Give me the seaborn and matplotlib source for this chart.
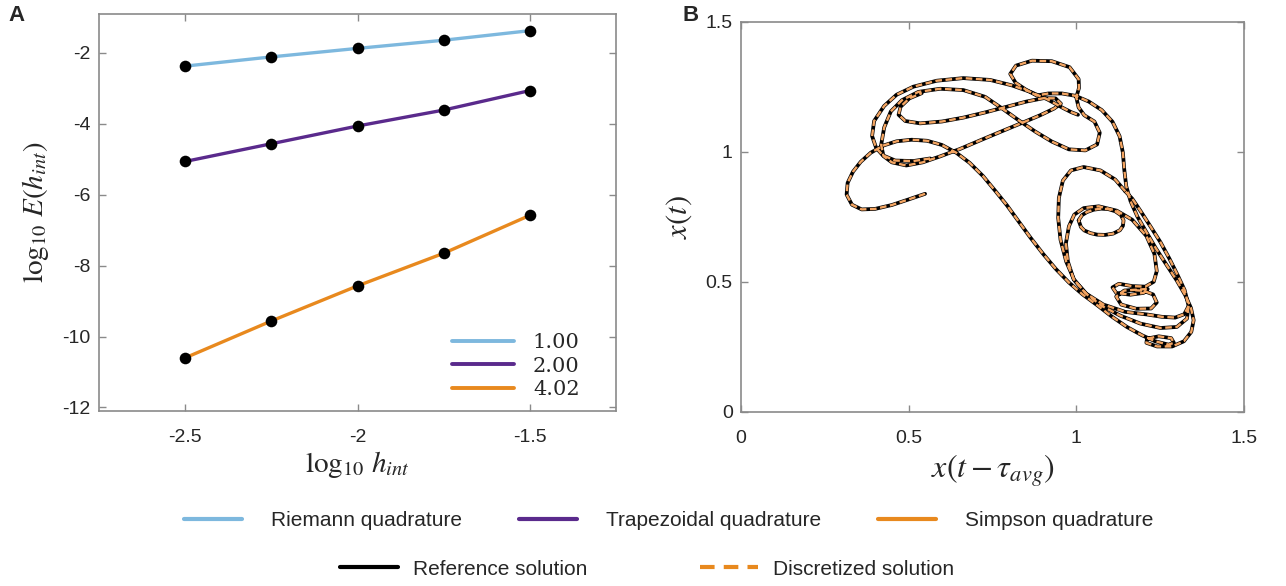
import pandas as pd
import matplotlib
matplotlib.use("Agg")
import matplotlib.pyplot as plt
from matplotlib.lines import Line2D
import seaborn as sns

# Panel A: error of the quadrature rules vs integration step (log10 / log10)
log_h = [-2.5, -2.25, -2.0, -1.75, -1.5]
riemann_err = [-2.37, -2.11, -1.87, -1.64, -1.37]
trapz_err = [-5.06, -4.56, -4.06, -3.61, -3.06]
simpson_err = [-10.60, -9.56, -8.57, -7.65, -6.58]
methods = ["Riemann quadrature", "Trapezoidal quadrature", "Simpson quadrature"]
orders = ["1.00", "2.00", "4.02"]
method_colors = ["#7DB8DE", "#5A2A8C", "#E8891E"]

# Panel B: delay embedding of the solution in pieces
main_x = [0.549, 0.499, 0.450, 0.400, 0.360, 0.331, 0.315, 0.318, 0.334, 0.357,
          0.387, 0.423, 0.464, 0.509, 0.555, 0.599, 0.642, 0.682, 0.722, 0.758,
          0.793, 0.828, 0.863, 0.901, 0.939, 0.978, 1.019, 1.062, 1.107, 1.151,
          1.196, 1.235, 1.275, 1.291, 1.283, 1.246, 1.211, 1.209, 1.241, 1.286,
          1.321, 1.343, 1.350, 1.342, 1.325, 1.299, 1.268, 1.237, 1.208, 1.182,
          1.162, 1.149, 1.143, 1.139, 1.129, 1.108, 1.076, 1.037, 0.997, 0.957,
          0.917, 0.882, 0.848, 0.819, 0.803, 0.820, 0.868, 0.927, 0.980, 1.007,
          1.008, 1.000, 1.007, 1.024, 1.054, 1.070, 1.062, 1.027, 0.978, 0.927,
          0.878, 0.828, 0.778, 0.728, 0.663, 0.594, 0.529, 0.480, 0.447, 0.427,
          0.418, 0.425, 0.450, 0.493, 0.542, 0.594, 0.654, 0.714, 0.773, 0.833,
          0.892, 0.934, 0.954, 0.938, 0.903, 0.852, 0.793, 0.728, 0.663, 0.599,
          0.534, 0.490, 0.470, 0.476, 0.502, 0.539]
main_y = [0.838, 0.816, 0.795, 0.780, 0.778, 0.796, 0.835, 0.880, 0.923, 0.961,
          0.996, 1.023, 1.040, 1.046, 1.042, 1.026, 0.996, 0.957, 0.906, 0.850,
          0.794, 0.732, 0.670, 0.607, 0.549, 0.497, 0.451, 0.410, 0.365, 0.326,
          0.294, 0.271, 0.258, 0.265, 0.283, 0.290, 0.281, 0.265, 0.251, 0.251,
          0.271, 0.307, 0.352, 0.399, 0.448, 0.506, 0.567, 0.629, 0.693, 0.751,
          0.809, 0.867, 0.932, 0.996, 1.060, 1.115, 1.160, 1.193, 1.215, 1.224,
          1.224, 1.216, 1.240, 1.265, 1.299, 1.331, 1.350, 1.348, 1.325, 1.279,
          1.245, 1.209, 1.170, 1.140, 1.116, 1.073, 1.028, 1.005, 1.009, 1.039,
          1.077, 1.121, 1.167, 1.211, 1.237, 1.242, 1.230, 1.198, 1.155, 1.093,
          1.026, 0.983, 0.959, 0.947, 0.959, 0.982, 1.011, 1.044, 1.076, 1.108,
          1.140, 1.166, 1.185, 1.205, 1.206, 1.193, 1.173, 1.151, 1.131, 1.116,
          1.109, 1.118, 1.142, 1.173, 1.205, 1.225]

outer_x = [0.564, 0.514, 0.460, 0.423, 0.403, 0.391, 0.397, 0.427, 0.464, 0.514,
           0.584, 0.663, 0.743, 0.808, 0.863, 0.913, 0.962, 0.985, 1.005]
outer_y = [0.974, 0.964, 0.966, 0.986, 1.015, 1.060, 1.118, 1.176, 1.219, 1.250,
           1.273, 1.283, 1.276, 1.255, 1.230, 1.202, 1.167, 1.152, 1.142]

big_loop_x = [1.146, 1.116, 1.072, 1.022, 0.984, 0.960, 0.948, 0.946, 0.953, 0.970,
              0.994, 1.032, 1.076, 1.132, 1.191, 1.251, 1.300, 1.330, 1.335, 1.323,
              1.302, 1.278, 1.251, 1.221, 1.191, 1.167, 1.146]
big_loop_y = [0.848, 0.893, 0.928, 0.941, 0.928, 0.889, 0.822, 0.745, 0.661, 0.577,
              0.506, 0.451, 0.407, 0.369, 0.339, 0.322, 0.326, 0.358, 0.407, 0.468,
              0.526, 0.588, 0.652, 0.713, 0.773, 0.819, 0.848]

inner_loop_x = [1.335, 1.322, 1.295, 1.255, 1.211, 1.146, 1.081, 1.027, 0.992, 0.975,
                0.969, 0.978, 0.994, 1.022, 1.067, 1.121, 1.167, 1.209, 1.233, 1.240,
                1.231, 1.206, 1.167, 1.127, 1.108, 1.119, 1.161, 1.201, 1.213, 1.186,
                1.143, 1.119, 1.134, 1.179, 1.223, 1.240, 1.229, 1.201, 1.165]
inner_loop_y = [0.407, 0.375, 0.362, 0.365, 0.374, 0.384, 0.412, 0.456, 0.510, 0.577,
                0.648, 0.713, 0.758, 0.783, 0.790, 0.773, 0.738, 0.676, 0.607, 0.541,
                0.500, 0.481, 0.483, 0.492, 0.478, 0.457, 0.450, 0.457, 0.472, 0.470,
                0.466, 0.443, 0.412, 0.396, 0.397, 0.420, 0.451, 0.465, 0.468]

eye_x = [1.007, 1.017, 1.032, 1.052, 1.074, 1.096, 1.116, 1.133, 1.141, 1.139,
         1.130, 1.110, 1.086, 1.062, 1.042, 1.024, 1.014, 1.007]
eye_y = [0.736, 0.756, 0.768, 0.777, 0.781, 0.779, 0.771, 0.756, 0.736, 0.715,
         0.698, 0.685, 0.680, 0.681, 0.687, 0.697, 0.710, 0.736]

sns.set_theme(style="white")
plt.rcParams["font.family"] = ["Liberation Sans", "DejaVu Sans"]
plt.rcParams["mathtext.fontset"] = "stix"
plt.rcParams["axes.unicode_minus"] = False

spine_col = "#8a8a8a"
text_col = "#262626"

fig = plt.figure(figsize=(12.86, 5.86), dpi=100)
ax_a = fig.add_axes([0.0770, 0.2986, 0.4020, 0.6775])
ax_b = fig.add_axes([0.5762, 0.2974, 0.3911, 0.6656])

# ---- panel A
df_a = pd.DataFrame({
    "log_h": log_h * 3,
    "log_err": riemann_err + trapz_err + simpson_err,
    "method": [m for m in methods for _ in log_h],
})
sns.lineplot(data=df_a, x="log_h", y="log_err", hue="method",
             palette=dict(zip(methods, method_colors)), linewidth=2.4,
             legend=False, ax=ax_a)
sns.scatterplot(data=df_a, x="log_h", y="log_err", color="black", s=70,
                linewidth=0, zorder=3, legend=False, ax=ax_a)
ax_a.set_xlim(-2.75, -1.25)
ax_a.set_ylim(-12.1, -0.9)
ax_a.set_xticks([-2.5, -2.0, -1.5])
ax_a.set_xticklabels(["-2.5", "-2", "-1.5"])
ax_a.set_yticks([-12, -10, -8, -6, -4, -2])
ax_a.set_yticklabels(["-12", "-10", "-8", "-6", "-4", "-2"])
ax_a.set_xlabel(r"$\log_{10}\,h_{int}$", fontsize=21, color=text_col, labelpad=2)
ax_a.set_ylabel(r"$\log_{10}\,E(h_{int})$", fontsize=21, color=text_col, labelpad=8)

order_handles = [Line2D([], [], color=c, lw=2.8) for c in method_colors]
ax_a.legend(order_handles, orders, loc="lower right", bbox_to_anchor=(0.93, 0.03),
            frameon=False, borderaxespad=0, borderpad=0, handlelength=3.0,
            handletextpad=0.9, labelspacing=0.22,
            prop={"family": "DejaVu Serif", "size": 15})

# ---- panel B
pieces = [("main", main_x, main_y), ("outer", outer_x, outer_y),
          ("big", big_loop_x, big_loop_y), ("inner", inner_loop_x, inner_loop_y),
          ("eye", eye_x, eye_y)]
df_b = pd.concat([pd.DataFrame({"x": xs, "y": ys, "piece": name})
                  for name, xs, ys in pieces], ignore_index=True)
sns.lineplot(data=df_b, x="x", y="y", units="piece", estimator=None, sort=False,
             color="black", linewidth=2.7, solid_joinstyle="round",
             solid_capstyle="round", legend=False, ax=ax_b)
sns.lineplot(data=df_b, x="x", y="y", units="piece", estimator=None, sort=False,
             color="#F4A562", linewidth=1.7, linestyle=(0, (2.8, 1.5)),
             dash_joinstyle="round", legend=False, ax=ax_b)
ax_b.set_xlim(0, 1.5)
ax_b.set_ylim(0, 1.5)
ax_b.set_xticks([0, 0.5, 1, 1.5])
ax_b.set_xticklabels(["0", "0.5", "1", "1.5"])
ax_b.set_yticks([0, 0.5, 1, 1.5])
ax_b.set_yticklabels(["0", "0.5", "1", "1.5"])
ax_b.set_xlabel(r"$x\left(t-\tau_{avg}\right)$", fontsize=23, color=text_col, labelpad=4)
ax_b.set_ylabel(r"$x(t)$", fontsize=22, color=text_col, labelpad=8)

for ax in (ax_a, ax_b):
    ax.tick_params(direction="in", length=5, width=1, color=spine_col,
                   labelsize=14, labelcolor=text_col, top=True, right=True,
                   bottom=True, left=True, pad=6)
    ax.tick_params(axis="x", pad=13)
    for sp in ax.spines.values():
        sp.set_color(spine_col)
        sp.set_linewidth(1.2)

fig.text(0.013, 0.973, "A", fontsize=16, fontweight="bold", ha="center", va="center")
fig.text(0.537, 0.973, "B", fontsize=16, fontweight="bold", ha="center", va="center")

# ---- shared legend below both panels
row1 = [Line2D([], [], color=c, lw=3) for c in method_colors]
fig.legend(row1, methods, loc="center", bbox_to_anchor=(0.52, 0.111), ncol=3,
           frameon=False, fontsize=15, handlelength=2.8, handletextpad=1.4,
           columnspacing=2.7)
row2 = [Line2D([], [], color="black", lw=3),
        Line2D([], [], color="#E8891E", lw=3, linestyle=(0, (3.5, 2.2)))]
fig.legend(row2, ["Reference solution", "Discretized solution"], loc="center",
           bbox_to_anchor=(0.503, 0.029), ncol=2, frameon=False, fontsize=15,
           handlelength=2.8, handletextpad=0.7, columnspacing=5.4)

fig.savefig("out.png", dpi=100, facecolor="white")
